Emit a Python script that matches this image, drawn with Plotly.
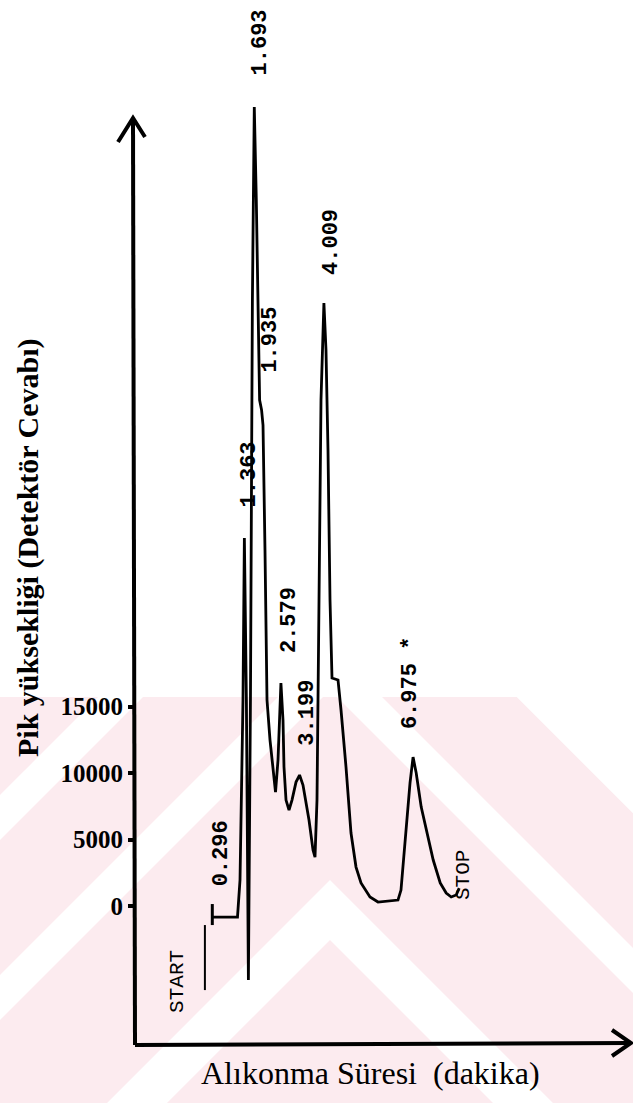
import plotly.graph_objects as go

# Chromatogram trace: retention time (min) vs detector response
time_min = [0.296, 1.134, 1.218, 1.317, 1.363, 1.430, 1.497, 1.565, 1.630, 1.693,
            1.760, 1.826, 1.870, 1.935, 1.983, 2.049, 2.116, 2.216, 2.316, 2.399,
            2.482, 2.548, 2.579, 2.648, 2.681, 2.748, 2.848, 2.947, 3.081, 3.199,
            3.313, 3.513, 3.646, 3.713, 3.779, 3.846, 3.912, 4.009, 4.078, 4.145,
            4.212, 4.278, 4.478, 4.578, 4.744, 4.910, 5.077, 5.243, 5.542, 5.808,
            6.340, 6.473, 6.573, 6.740, 6.873, 6.975, 7.079, 7.246, 7.412, 7.645,
            7.878, 8.077, 8.243, 8.410, 8.510]
signal = [-830, -830, 1960, 15490, 27670, 15490, -5560, 15490, 45570, 60080,
          53090, 43320, 38050, 37300, 36170, 26770, 15490, 12480, 10230, 8570,
          10980, 15490, 16770, 13990, 10450, 7970, 7220, 7970, 9320, 9850,
          9100, 6470, 4210, 3680, 7970, 23010, 38050, 45350, 41810, 34290,
          23010, 17150, 17000, 14740, 10450, 5490, 2930, 1730, 680, 300,
          380, 450, 1200, 5490, 9250, 11200, 10000, 7440, 5720, 3460,
          1730, 980, 680, 830, 1350]

# Integrator peak labels (retention times)
peak_times = [0.296, 1.363, 1.693, 1.935, 2.579, 3.199, 4.009, 6.975]
peak_texts = ["0.296", "1.363", "1.693", "1.935", "2.579", "3.199", "4.009", "6.975 *"]

# Event markers
start_time = 0.05
start_span = [-1430, -6320]
first_tick_span = [150, -1430]
stop_time = 8.636

# Y axis ticks
y_ticks = [0, 5000, 10000, 15000]
y_tick_text = ["0", "5000", "10000", "15000"]

# label placement (response level of label centre, horizontal nudge in px)
label_levels = [3985, 32480, 64960, 42560, 21500, 14510, 49930, 16770]
label_nudges = [9, 5, 6, 8, 8, 8, 7, -3]

W, H = 633, 1103
ML, MB = 135, 58
x_range = [-2.2755, 14.2914]
y_range = [-10450, 68130]


def px(xp):
    return (xp - ML) / (W - ML)


def py(yp):
    return (H - MB - yp) / (H - MB)


def poly(points):
    return "M " + " L ".join(f"{px(a):.5f},{py(b):.5f}" for a, b in points) + " Z"


fig = go.Figure()

# faint page stamp in the lower part of the sheet
pink = "#fcebef"
fig.add_shape(type="path", xref="paper", yref="paper", layer="below",
              path=poly([(0, 697), (517, 697), (633, 813), (633, 1103), (0, 1103)]),
              fillcolor=pink, line=dict(width=0))
ax_c = 330


def chevron_band(top, thick):
    span = 800
    return poly([(ax_c - span, top + span), (ax_c, top), (ax_c + span, top + span),
                 (ax_c + span, top + thick + span), (ax_c, top + thick),
                 (ax_c - span, top + thick + span)])


for top, thick in [(465, 45), (645, 45), (880, 60)]:
    fig.add_shape(type="path", xref="paper", yref="paper", layer="below",
                  path=chevron_band(top, thick), fillcolor="white", line=dict(width=0))
# keep the stamp inside its band
fig.add_shape(type="rect", xref="paper", yref="paper", layer="below",
              x0=px(-10), x1=px(700), y0=py(0), y1=py(697),
              fillcolor="white", line=dict(width=0))

fig.add_trace(go.Scatter(x=time_min, y=signal, mode="lines",
                         line=dict(color="black", width=2.8),
                         hoverinfo="skip", showlegend=False))
fig.add_trace(go.Scatter(x=[start_time, start_time], y=start_span, mode="lines",
                         line=dict(color="black", width=2), showlegend=False))
fig.add_trace(go.Scatter(x=[peak_times[0], peak_times[0]], y=first_tick_span, mode="lines",
                         line=dict(color="black", width=3), showlegend=False))

mono = "Liberation Mono"
for t, txt, lvl, dx in zip(peak_times, peak_texts, label_levels, label_nudges):
    fig.add_annotation(x=t, y=lvl, xref="x", yref="y", text=txt, textangle=-90,
                       showarrow=False, xshift=dx, xanchor="center", yanchor="middle",
                       font=dict(family=mono, size=22, color="black", weight="bold"))

fig.add_annotation(x=start_time, y=-5640, xref="x", yref="y", text="START",
                   textangle=-90, showarrow=False, xshift=-28,
                   xanchor="center", yanchor="middle",
                   font=dict(family=mono, size=21, color="black"))
fig.add_annotation(x=stop_time, y=2330, xref="x", yref="y", text="STOP",
                   textangle=-90, showarrow=False, xanchor="center", yanchor="middle",
                   font=dict(family=mono, size=21, color="black"))

# hand-drawn axes with open arrowheads
axis_style = dict(color="black", width=4)
fig.add_shape(type="line", xref="paper", yref="paper",
              x0=px(135), y0=py(1045), x1=px(133), y1=py(119), line=axis_style)
fig.add_shape(type="path", xref="paper", yref="paper",
              path=f"M {px(118)},{py(142)} L {px(133)},{py(118)} L {px(145)},{py(137)}",
              line=axis_style)
fig.add_shape(type="line", xref="paper", yref="paper",
              x0=px(135), y0=py(1045), x1=px(630), y1=py(1043), line=axis_style)
fig.add_shape(type="path", xref="paper", yref="paper",
              path=f"M {px(612)},{py(1030)} L {px(631)},{py(1043)} L {px(612)},{py(1056)}",
              line=axis_style)

serif = "Liberation Serif"
fig.add_annotation(x=px(28), y=py(548), xref="paper", yref="paper",
                   text="Pik yüksekliği (Detektör Cevabı)", textangle=-90,
                   showarrow=False, xanchor="center", yanchor="middle",
                   font=dict(family=serif, size=30, color="black", weight="bold"))
fig.add_annotation(x=px(370), y=py(1073), xref="paper", yref="paper",
                   text="Alıkonma Süresi  (dakika)", showarrow=False,
                   xanchor="center", yanchor="middle",
                   font=dict(family=serif, size=32, color="black"))

fig.update_xaxes(range=x_range, showgrid=False, zeroline=False, showline=False,
                 showticklabels=False, ticks="")
fig.update_yaxes(range=y_range, showgrid=False, zeroline=False, showline=False,
                 tickvals=y_ticks, ticktext=y_tick_text, ticks="outside",
                 ticklen=6, tickwidth=4, tickcolor="black",
                 tickfont=dict(family=serif, size=25, color="black", weight="bold"))

fig.update_layout(width=W, height=H, margin=dict(l=ML, r=0, t=0, b=MB),
                  paper_bgcolor="white", plot_bgcolor="rgba(0,0,0,0)",
                  showlegend=False)

fig.write_html("out.html")
